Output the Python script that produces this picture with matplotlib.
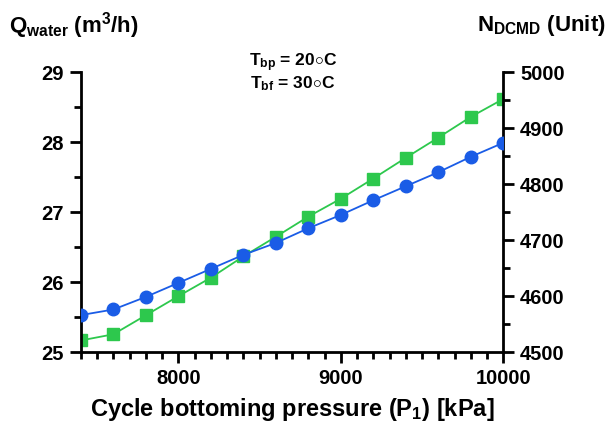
import matplotlib
matplotlib.use("Agg")
import matplotlib.pyplot as plt
from matplotlib.ticker import MultipleLocator

plt.rcParams['font.family'] = ['Liberation Sans', 'DejaVu Sans']
plt.rcParams['mathtext.fontset'] = 'custom'
plt.rcParams['mathtext.rm'] = 'Liberation Sans'
plt.rcParams['mathtext.bf'] = 'Liberation Sans:bold'
plt.rcParams['mathtext.it'] = 'Liberation Sans:italic'

pressure = [7400, 7600, 7800, 8000, 8200, 8400, 8600, 8800, 9000, 9200, 9400, 9600, 9800, 10000]
q_water = [25.53, 25.61, 25.79, 25.99, 26.19, 26.39, 26.56, 26.77, 26.96, 27.17, 27.37, 27.57, 27.79, 27.99]
n_dcmd = [4521, 4532, 4566, 4600, 4633, 4671, 4706, 4742, 4774, 4810, 4847, 4883, 4920, 4952]

blue = '#1a5ce6'
green = '#2dc84d'

fig = plt.figure(figsize=(6.13, 4.29), dpi=100)
ax = fig.add_axes([0.132, 0.179, 0.689, 0.653])
ax2 = ax.twinx()

ax.plot(pressure, q_water, color=blue, marker='o', markersize=9, linewidth=1.3, zorder=3)
ax2.plot(pressure, n_dcmd, color=green, marker='s', markersize=9, linewidth=1.3, zorder=2)
ax.set_zorder(ax2.get_zorder() + 1)
ax.patch.set_visible(False)

ax.set_xlim(7400, 10000)
ax.set_ylim(25, 29)
ax2.set_ylim(4500, 5000)

for a in (ax, ax2):
    for s in ('left', 'right', 'bottom'):
        a.spines[s].set_linewidth(2)
        a.spines[s].set_color('black')
    a.spines['top'].set_visible(False)

ax.spines['right'].set_visible(False)
ax2.spines['left'].set_visible(False)
ax2.spines['bottom'].set_visible(False)

ax.xaxis.set_major_locator(MultipleLocator(1000))
ax.xaxis.set_minor_locator(MultipleLocator(100))
ax.yaxis.set_major_locator(MultipleLocator(1))
ax.yaxis.set_minor_locator(MultipleLocator(0.5))
ax2.yaxis.set_major_locator(MultipleLocator(100))
ax2.yaxis.set_minor_locator(MultipleLocator(50))

for a in (ax, ax2):
    a.tick_params(which='major', length=8, width=2, labelsize=14.5, direction='out', pad=4)
    a.tick_params(which='minor', length=5, width=2, direction='out')
    for lab in a.get_xticklabels() + a.get_yticklabels():
        lab.set_fontweight('bold')

ax.set_xlabel('Cycle bottoming pressure (P$_\\mathbf{1}$) [kPa]', fontsize=17, fontweight='bold', labelpad=6)

fig.text(0.015, 0.94, r'$\mathbf{Q_{water}\ (m^3/h)}$', fontsize=16, ha='left', va='center')
fig.text(0.988, 0.94, r'$\mathbf{N_{DCMD}\ (Unit)}$', fontsize=16, ha='right', va='center')

fig.text(0.478, 0.855, 'T$_\\mathbf{bp}$ = 20$\\!\\circ\\!$C', ha='center', va='center', fontsize=12.5,
         fontweight='semibold')
fig.text(0.478, 0.805, 'T$_\\mathbf{bf}$ = 30$\\!\\circ\\!$C', ha='center', va='center', fontsize=12.5,
         fontweight='semibold')

fig.savefig('out.png', dpi=100)
